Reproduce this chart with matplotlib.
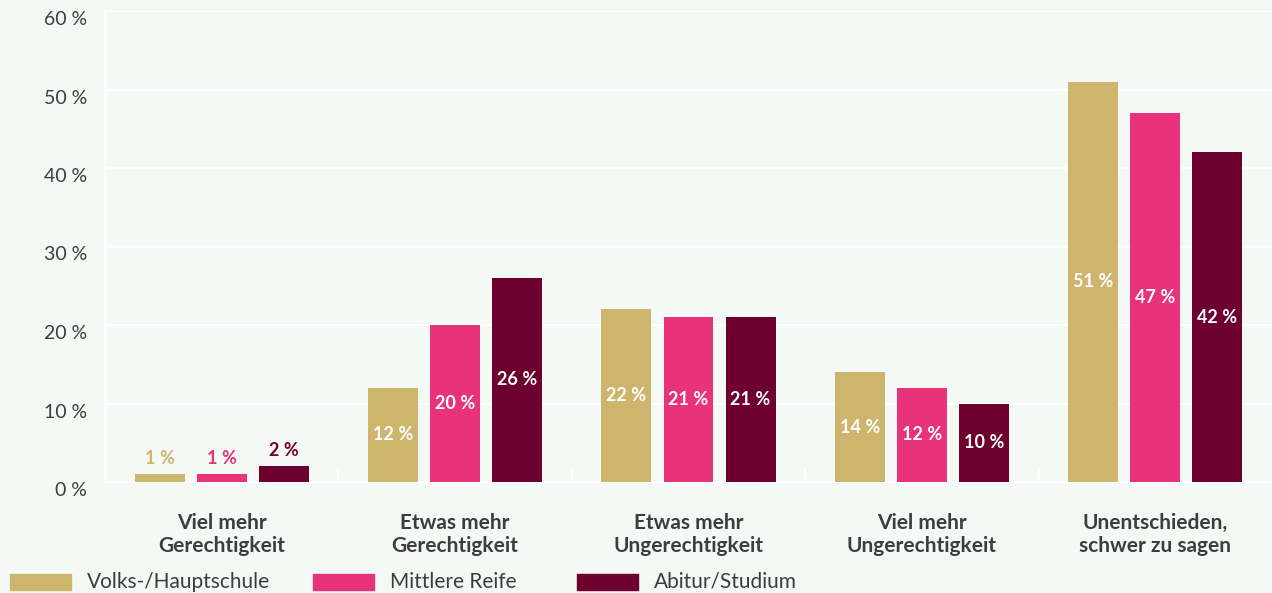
import numpy as np
import matplotlib.pyplot as plt
import matplotlib.transforms as mtransforms
from matplotlib.patches import Rectangle

plt.rcParams['font.family'] = ['Lato', 'DejaVu Sans']

categories = ['Viel mehr\nGerechtigkeit', 'Etwas mehr\nGerechtigkeit', 'Etwas mehr\nUngerechtigkeit',
              'Viel mehr\nUngerechtigkeit', 'Unentschieden,\nschwer zu sagen']
series = ['Volks-/Hauptschule', 'Mittlere Reife', 'Abitur/Studium']
volks = [1, 12, 22, 14, 51]
mittlere = [1, 20, 21, 12, 47]
abitur = [2, 26, 21, 10, 42]
yticks = [0, 10, 20, 30, 40, 50, 60]

colors = ['#cdb56d', '#e8327a', '#6e0030']
bg = '#f4f9f5'
txt = '#3d3d3d'
W, H = 1272, 593

fig = plt.figure(figsize=(12.72, 5.93), dpi=100, facecolor=bg)
ax = fig.add_axes([105 / W, 1 - 482 / H, 1 - 105 / W, (482 - 11) / H])
ax.set_facecolor(bg)

x = np.arange(len(categories))
width = 0.214
offset = 0.266
for i, (vals, c) in enumerate(zip([volks, mittlere, abitur], colors)):
    pos = x + (i - 1) * offset
    ax.bar(pos, vals, width, color=c, zorder=3)
    for xp, v in zip(pos, vals):
        lab = f'{v}\u202f%'
        if v < 5:
            ax.text(xp, v + 0.9, lab, ha='center', va='bottom', color=c,
                    fontsize=13, fontweight='bold', zorder=4)
        else:
            ax.text(xp, v / 2, lab, ha='center', va='center', color='white',
                    fontsize=13, fontweight='bold', zorder=4)

ax.set_xlim(-0.5, len(categories) - 0.5)
ax.set_ylim(0, 60)
ax.set_yticks(yticks)
ax.set_yticklabels([f'{t}\u202f%' for t in yticks], fontsize=14, color=txt)
shift = mtransforms.ScaledTranslation(0, -3 / 72, fig.dpi_scale_trans)
for lab in ax.get_yticklabels():
    lab.set_verticalalignment('top')
    lab.set_transform(lab.get_transform() + shift)
ax.yaxis.grid(True, color='white', linewidth=1.5, zorder=0)
ax.tick_params(axis='y', length=0, pad=13)

ax.set_xticks(x)
ax.set_xticklabels(categories, fontsize=15, fontweight='bold', color=txt, linespacing=1.2)
ax.tick_params(axis='x', length=0, pad=22)
# short separators between groups
for b in np.arange(0.5, len(categories) - 0.5, 1):
    ax.plot([b, b], [0, 1.5], color='white', linewidth=1.5, zorder=1)

for s in ['top', 'right']:
    ax.spines[s].set_visible(False)
ax.spines['left'].set_color('white')
ax.spines['left'].set_linewidth(1.5)
ax.spines['bottom'].set_color('white')
ax.spines['bottom'].set_linewidth(1.5)

# legend, laid out by hand (pixel positions)
leg_x = [10, 313, 577]
for lx, c, s in zip(leg_x, colors, series):
    fig.add_artist(Rectangle((lx / W, 1 - 590 / H), 61 / W, 16 / H, color=c,
                             transform=fig.transFigure))
    fig.text((lx + 77) / W, 1 - 582 / H, s, fontsize=15, color=txt, va='center', ha='left')

fig.savefig('out.png', dpi=100, facecolor=bg)
